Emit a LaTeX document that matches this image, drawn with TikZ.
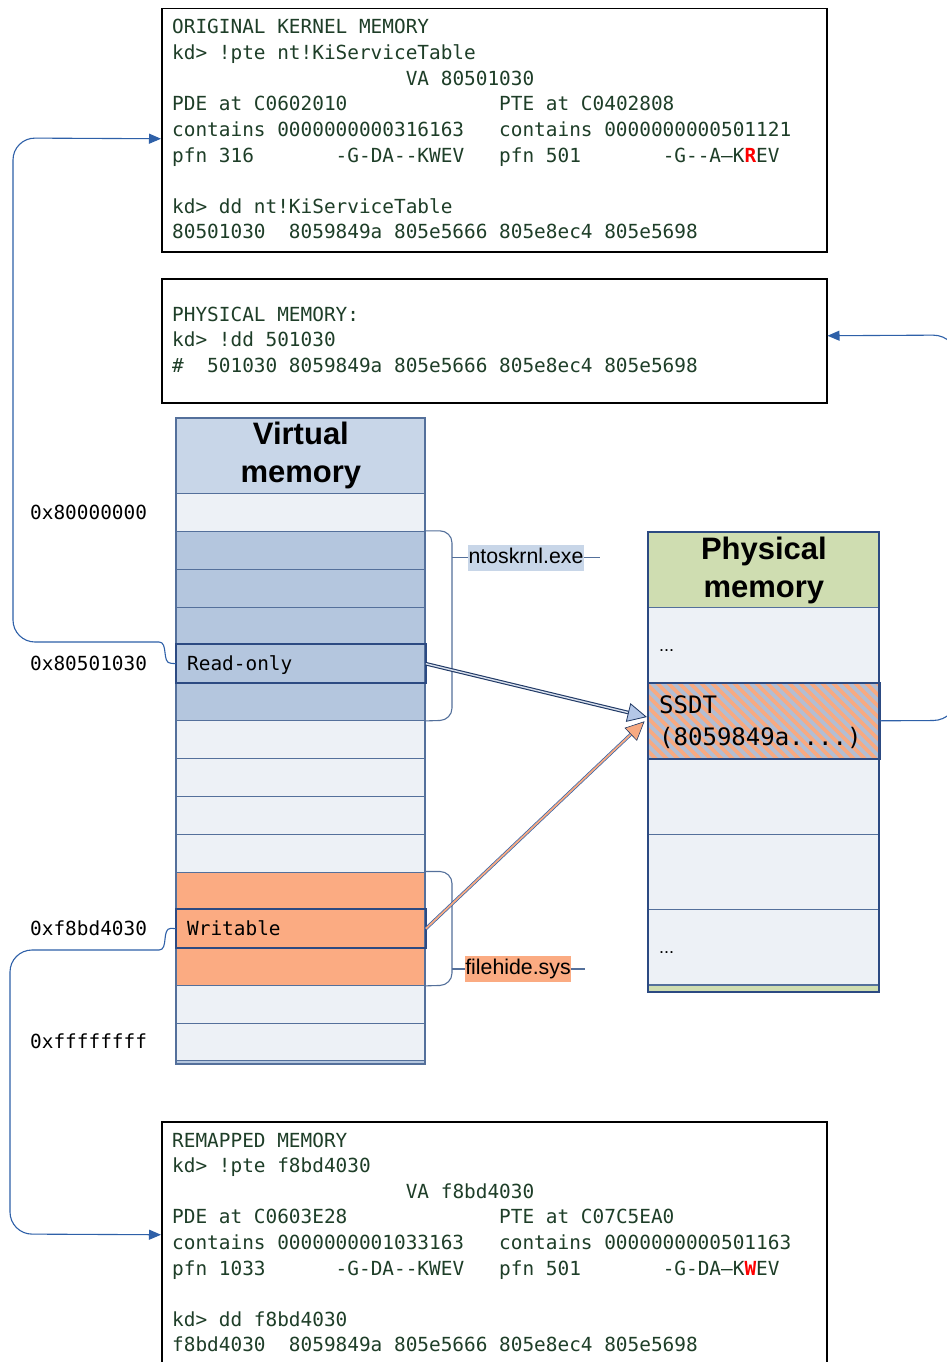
\documentclass[tikz,border=0pt]{standalone}
\usepackage{fontspec}
\setmainfont{Liberation Sans}
\setmonofont{DejaVu Sans Mono}
\usetikzlibrary{calc,arrows.meta}

\definecolor{rowlight}{RGB}{237,241,246}
\definecolor{rowblue}{RGB}{180,198,222}
\definecolor{hdrblue}{RGB}{200,214,232}
\definecolor{roworange}{RGB}{251,171,130}
\definecolor{hdrgreen}{RGB}{207,221,177}
\definecolor{gridline}{RGB}{84,112,155}
\definecolor{hlline}{RGB}{44,74,130}
\definecolor{connblue}{RGB}{46,96,168}
\definecolor{codegreen}{RGB}{30,62,40}
\definecolor{hatchblue}{RGB}{178,190,212}
\definecolor{hatchorange}{RGB}{247,170,130}
\definecolor{shaftdark}{RGB}{31,56,100}
\definecolor{shaftlight}{RGB}{214,222,236}
\definecolor{tipblue}{RGB}{180,199,231}

\begin{document}
\begin{tikzpicture}[x=1pt,y=-1pt,
  codebox/.style={draw=black, line width=1.5pt, fill=white, anchor=north west, inner sep=0pt, minimum width=665pt},
  code/.style={anchor=base west, inner sep=0pt, text=codegreen, font=\fontsize{19.4}{25.6}\selectfont\ttfamily},
  addr/.style={anchor=base west, inner sep=0pt, font=\fontsize{19.4}{25.6}\selectfont\ttfamily},
  vcell/.style={anchor=north west, inner sep=0pt, draw=gridline, line width=0.8pt, minimum width=249pt, minimum height=37.85pt},
  pcell/.style={anchor=north west, inner sep=0pt, draw=gridline, line width=0.8pt, minimum width=231pt, minimum height=75.6pt},
  hdr/.style={align=center, font=\fontsize{31}{38}\selectfont\bfseries},
  hl/.style={draw=hlline, line width=2pt},
  conn/.style={draw=connblue, line width=1.1pt, -{Triangle[length=12pt,width=10pt]}},
  bracket/.style={draw=gridline, line width=1.1pt},
  lbl/.style={inner xsep=0.5pt, inner ysep=2.5pt, text height=16pt, text depth=5pt, font=\fontsize{21.3}{24}\selectfont},
  dots/.style={anchor=base west, inner sep=0pt, font=\fontsize{18}{20}\selectfont}
]
\useasboundingbox (0,0) rectangle (947,1362);
\fill[white] (0,0) rectangle (947,1362);

% ---------- debugger output boxes ----------
\node[codebox, minimum height=243pt] (orig) at (161,8) {};
\node[code] (o1) at (172,34)    {ORIGINAL KERNEL MEMORY};
\node[code] (o2) at (172,59.6)  {kd> !pte nt!KiServiceTable};
\node[code] (o3) at (405.6,85.2){VA 80501030};
\node[code] (o4) at (172,110.8) {PDE at C0602010~~~~~~~~~~~~~PTE at C0402808};
\node[code] (o5) at (172,136.4) {contains 0000000000316163~~~contains 0000000000501121};
\node[code] (o6) at (172,162)   {pfn 316~~~~~~~-G-DA--KWEV~~~pfn 501~~~~~~~-G--A–K{\color{red}\bfseries R}EV};
\node[code] (o7) at (172,213.2) {kd> dd nt!KiServiceTable};
\node[code] (o8) at (172,238.8) {80501030~~8059849a 805e5666 805e8ec4 805e5698};

\node[codebox, minimum height=124pt] (phys) at (161,278) {};
\node[code] (m1) at (172,321)   {PHYSICAL MEMORY:};
\node[code] (m2) at (172,346.6) {kd> !dd 501030};
\node[code] (m3) at (172,372.2) {\#~~501030 8059849a 805e5666 805e8ec4 805e5698};

\node[codebox, minimum height=250pt] (remap) at (161,1121) {};
\node[code] (r1) at (172,1147)   {REMAPPED MEMORY};
\node[code] (r2) at (172,1172.6) {kd> !pte f8bd4030};
\node[code] (r3) at (405.6,1198.2){VA f8bd4030};
\node[code] (r4) at (172,1223.8) {PDE at C0603E28~~~~~~~~~~~~~PTE at C07C5EA0};
\node[code] (r5) at (172,1249.4) {contains 0000000001033163~~~contains 0000000000501163};
\node[code] (r6) at (172,1275)   {pfn 1033~~~~~~-G-DA--KWEV~~~pfn 501~~~~~~~-G-DA–K{\color{red}\bfseries W}EV};
\node[code] (r7) at (172,1326.2) {kd> dd f8bd4030};
\node[code] (r8) at (172,1351.8) {f8bd4030~~8059849a 805e5666 805e8ec4 805e5698};

% ---------- virtual memory column ----------
\node[vcell, minimum height=75pt, fill=hdrblue, hdr] (vhdr) at (176,418) {Virtual\\memory};
\foreach \k/\c in {0/rowlight,1/rowblue,2/rowblue,3/rowblue,4/rowblue,5/rowblue,
                   6/rowlight,7/rowlight,8/rowlight,9/rowlight,
                   10/roworange,11/roworange,12/roworange,13/rowlight,14/rowlight}
  \node[vcell, fill=\c] (v\k) at (176,{493+37.85*\k}) {};
\fill[rowblue] (176,1060.75) rectangle (425,1064);
\draw[gridline, line width=1.2pt] (176,1060.75) -- (425,1060.75);
\draw[gridline, line width=1.2pt] (176,418) rectangle (425,1064);
\draw[hl] (v4.north west) rectangle (v4.south east);
\draw[hl] (v11.north west) rectangle (v11.south east);
\node[addr] (ro) at (187,670) {Read-only};
\node[addr] (wr) at (187,935) {Writable};

% address labels
\node[addr] (a1) at (30,519)  {0x80000000};
\node[addr] (a2) at (30,670)  {0x80501030};
\node[addr] (a3) at (30,935)  {0xf8bd4030};
\node[addr] (a4) at (30,1048) {0xffffffff};

% ---------- physical memory column ----------
\node[pcell, fill=hdrgreen, hdr] (phdr) at (648,532) {Physical\\memory};
\node[pcell, fill=rowlight]  (p0) at (648,607) {};
\node[pcell, fill=hatchblue] (p1) at (648,682.6) {};
\begin{scope}
  \clip (p1.north west) rectangle (p1.south east);
  \foreach \i in {-90,-79,...,240}
    \draw[hatchorange, line width=3.8pt] ({648+\i},672) -- ++(100,100);
\end{scope}
\node[pcell, fill=rowlight]  (p2) at (648,758.2) {};
\node[pcell, fill=rowlight]  (p3) at (648,833.8) {};
\node[pcell, fill=rowlight]  (p4) at (648,909.4) {};
\fill[hdrgreen] (648,985) rectangle (879,992);
\draw[gridline, line width=1.2pt] (648,985) -- (879,985);
\draw[hlline, line width=1.5pt] (648,532) rectangle (879,992);
\draw[hl] (p1.north west) rectangle (p1.south east);
\node[dots] (d1) at (659,651) {...};
\node[dots] (d2) at (659,953) {...};
\node[anchor=base west, inner sep=0pt, font=\fontsize{24}{32}\selectfont\ttfamily] (s1) at (659,713) {SSDT};
\node[anchor=base west, inner sep=0pt, font=\fontsize{24}{32}\selectfont\ttfamily] (s2) at (659,745) {(8059849a....)};

% ---------- module brackets ----------
\draw[bracket] (v1.north east) [rounded corners=12pt] -- (452,530.85) -- (452,720.1) -- (v5.south east);
\node[lbl, fill=hdrblue] (nt) at (526,557.5) {ntoskrnl.exe};
\coordinate (ntb) at (452,557.5);
\draw[bracket] (ntb) -- (nt.west);
\draw[bracket] (nt.east) -- ++(16,0);

\draw[bracket] (v10.north east) [rounded corners=12pt] -- (452,871.5) -- (452,985.1) -- (v12.south east);
\node[lbl, fill=roworange] (fh) at (518,969) {filehide.sys};
\coordinate (fhb) at (452,969);
\draw[bracket] (fhb) -- (fh.west);
\draw[bracket] (fh.east) -- ++(14,0);

% ---------- mappings onto the SSDT page ----------
\coordinate (ta) at ([xshift=-2pt,yshift=4pt]p1.west);
\coordinate (tab) at ($(ta)!18pt!(v4.east)$);
\draw[shaftdark, line width=3.6pt] (v4.east) -- ($(ta)!16pt!(v4.east)$);
\draw[shaftlight, line width=1.4pt] (v4.east) -- ($(ta)!16pt!(v4.east)$);
\filldraw[draw=shaftdark, fill=tipblue, line width=0.8pt]
  (ta) -- ($(tab)!9pt!90:(ta)$) -- ($(tab)!9pt!-90:(ta)$) -- cycle;

\coordinate (tb) at ([xshift=-4pt,yshift=-1pt]p1.west);
\coordinate (tbb) at ($(tb)!18pt!(v11.east)$);
\draw[connblue, line width=3.2pt] (v11.east) -- ($(tb)!16pt!(v11.east)$);
\draw[hatchorange, line width=1.8pt] (v11.east) -- ($(tb)!16pt!(v11.east)$);
\filldraw[draw=shaftdark, fill=hatchorange, line width=0.6pt]
  (tb) -- ($(tbb)!8.5pt!90:(tb)$) -- ($(tbb)!8.5pt!-90:(tb)$) -- cycle;

% ---------- links to the debugger listings ----------
\draw[conn] (v4.west) -- (171,663.3) to[out=180,in=0] (159,642)
  [rounded corners=22pt] -- (13,642) -- (13,138) -- ([yshift=-8.5pt]orig.west);
\draw[conn] (v11.west) -- (171,928.3) to[out=180,in=0] (159,950)
  [rounded corners=22pt] -- (10,950) -- (10,1234) -- ([yshift=12pt]remap.west);
\draw[conn] (p1.east) [rounded corners=25pt] -- (958,720.4) -- (958,335) -- ([yshift=5pt]phys.east);
\end{tikzpicture}
\end{document}
